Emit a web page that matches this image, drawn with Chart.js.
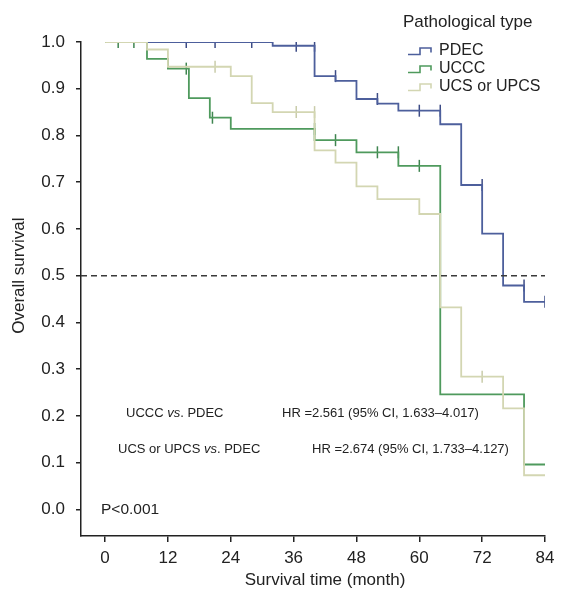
<!DOCTYPE html>
<html>
<head>
<meta charset="utf-8">
<script src="https://cdn.jsdelivr.net/npm/chart.js@4.4.1/dist/chart.umd.min.js"></script>
<style>
  html, body { margin: 0; padding: 0; background: #fff; }
</style>
</head>
<body>
<canvas id="km" width="567" height="591"></canvas>
<script>
// Kaplan-Meier curves, values
const groups = ['PDEC', 'UCCC', 'UCS or UPCS']

const pdecTime = [0, 32, 40, 44, 48, 52, 56, 64, 68, 72, 76, 80, 84]
const pdecSurv = [1.0, 0.992, 0.927, 0.917, 0.878, 0.868, 0.853, 0.824, 0.694, 0.590, 0.479, 0.444, 0.444]
const pdecCensor = [15.5, 21, 28, 36.5, 40, 44, 52, 60, 64, 72, 80, 84]

const ucccTime = [0, 8, 12, 16, 20, 24, 40, 48, 56, 64, 80, 84]
const ucccSurv = [1.0, 0.964, 0.943, 0.880, 0.838, 0.814, 0.790, 0.764, 0.735, 0.246, 0.096, 0.096]
const ucccCensor = [2.5, 5.5, 15.5, 20.5, 40, 44, 52, 56, 60]

const ucsTime = [0, 8, 12, 24, 28, 32, 40, 44, 48, 52, 60, 64, 68, 76, 80, 84]
const ucsSurv = [1.0, 0.984, 0.947, 0.927, 0.869, 0.850, 0.768, 0.742, 0.691, 0.664, 0.632, 0.432, 0.284, 0.216, 0.073, 0.073]
const ucsCensor = [21, 36.5, 40, 72]

const medianLine = 0.5
const xTicks = [0, 12, 24, 36, 48, 60, 72, 84]
const yTicks = [0, 0.1, 0.2, 0.3, 0.4, 0.5, 0.6, 0.7, 0.8, 0.9, 1.0]

const xTitle = 'Survival time (month)'
const yTitle = 'Overall survival'
const legendTitle = 'Pathological type'

const colors = ['#4d5f9c', '#4f9a5d', '#d3d6b2']
const censorColors = ['#3d4c86', '#3f8550', '#c9ccaa']

const xMin = -4.6, xMax = 84
const yMin = -0.057, yMax = 1.0

const FONT = '"Liberation Sans", Arial, sans-serif'

// survival just before time t (censor marks sit on the curve)
function survAt(times, surv, t) {
  let s = surv[0]
  for (let i = 0; i < times.length; i++) {
    if (times[i] < t) s = surv[i]
  }
  return s
}

function curve(times, surv) {
  return times.map((t, i) => ({ x: t, y: surv[i] }))
}

function censors(times, surv, marks) {
  return marks.map(t => ({ x: t, y: survAt(times, surv, t) }))
}

const series = [
  [pdecTime, pdecSurv, pdecCensor],
  [ucccTime, ucccSurv, ucccCensor],
  [ucsTime, ucsSurv, ucsCensor]
]
const lineOrder = [3, 2, 1]

const datasets = []
series.forEach(([t, s, c], i) => {
  datasets.push({
    label: groups[i],
    data: curve(t, s),
    stepped: 'before',
    borderColor: colors[i],
    borderWidth: 1.8,
    pointRadius: 0,
    fill: false,
    order: lineOrder[i]
  })
  datasets.push({
    label: groups[i] + ' censored',
    type: 'scatter',
    data: censors(t, s, c),
    pointStyle: 'line',
    rotation: 90,
    pointRadius: 6,
    borderColor: censorColors[i],
    borderWidth: 1.5,
    order: lineOrder[i]
  })
})

datasets.push({
  label: 'median',
  data: [{ x: xMin, y: medianLine }, { x: xMax, y: medianLine }],
  borderColor: '#3a3a3a',
  borderWidth: 1.5,
  borderDash: [6, 4],
  pointRadius: 0,
  order: 0
})

function drawRich(ctx, parts, x, y, size) {
  ctx.textAlign = 'left'
  parts.forEach(([txt, italic]) => {
    ctx.font = (italic ? 'italic ' : '') + size + 'px ' + FONT
    ctx.fillText(txt, x, y)
    x += ctx.measureText(txt).width
  })
}

const overlay = {
  id: 'overlay',
  afterDraw(chart) {
    const { ctx, scales: { x, y } } = chart
    ctx.save()
    ctx.fillStyle = '#222'
    ctx.textBaseline = 'middle'

    // axis titles
    ctx.font = '17px ' + FONT
    ctx.textAlign = 'center'
    ctx.fillText(xTitle, x.getPixelForValue(42), 580)
    ctx.save()
    ctx.translate(19, y.getPixelForValue(0.5))
    ctx.rotate(-Math.PI / 2)
    ctx.fillText(yTitle, 0, 0)
    ctx.restore()

    // legend
    ctx.font = '17px ' + FONT
    ctx.textAlign = 'left'
    ctx.fillText(legendTitle, 403, 22)
    ctx.font = '16px ' + FONT
    groups.forEach((g, i) => {
      const cy = 51 + i * 18
      ctx.strokeStyle = colors[i]
      ctx.lineWidth = 1.6
      ctx.beginPath()
      ctx.moveTo(408, cy + 3.5)
      ctx.lineTo(420, cy + 3.5)
      ctx.lineTo(420, cy - 3)
      ctx.lineTo(431, cy - 3)
      ctx.lineTo(431, cy + 1.5)
      ctx.stroke()
      ctx.fillText(g, 439, cy)
    })

    // hazard ratios
    drawRich(ctx, [['UCCC ', false], ['vs', true], ['. PDEC', false]], 126, 413, 13)
    drawRich(ctx, [['HR =2.561 (95% CI, 1.633\u20134.017)', false]], 282, 413, 13)
    drawRich(ctx, [['UCS or UPCS ', false], ['vs', true], ['. PDEC', false]], 118, 449, 13)
    drawRich(ctx, [['HR =2.674 (95% CI, 1.733\u20134.127)', false]], 312, 449, 13)
    drawRich(ctx, [['P<0.001', false]], 101, 510, 15.5)
    ctx.restore()
  }
}

const axisColor = '#222'

new Chart(document.getElementById('km'), {
  type: 'line',
  data: { datasets },
  options: {
    responsive: false,
    animation: false,
    devicePixelRatio: 1,
    layout: { padding: { top: 42, right: 22, left: 0, bottom: 0 } },
    plugins: {
      legend: { display: false },
      tooltip: { enabled: false }
    },
    scales: {
      x: {
        type: 'linear',
        min: xMin,
        max: xMax,
        afterBuildTicks: s => { s.ticks = xTicks.map(v => ({ value: v })) },
        afterFit: s => { s.height = 55 },
        ticks: { color: axisColor, font: { size: 17, family: FONT }, padding: 6, maxRotation: 0 },
        grid: { drawOnChartArea: false, drawTicks: true, tickLength: 6, color: axisColor, lineWidth: 1.5 },
        border: { display: true, color: axisColor, width: 1.5 }
      },
      y: {
        type: 'linear',
        min: yMin,
        max: yMax,
        afterBuildTicks: s => { s.ticks = yTicks.map(v => ({ value: v })) },
        afterFit: s => { s.width = 81 },
        ticks: { color: axisColor, font: { size: 17, family: FONT }, padding: 11, callback: v => v.toFixed(1) },
        grid: { drawOnChartArea: false, drawTicks: true, tickLength: 5, color: axisColor, lineWidth: 1.5 },
        border: { display: true, color: axisColor, width: 1.5 }
      }
    }
  },
  plugins: [overlay]
})
</script>
</body>
</html>
